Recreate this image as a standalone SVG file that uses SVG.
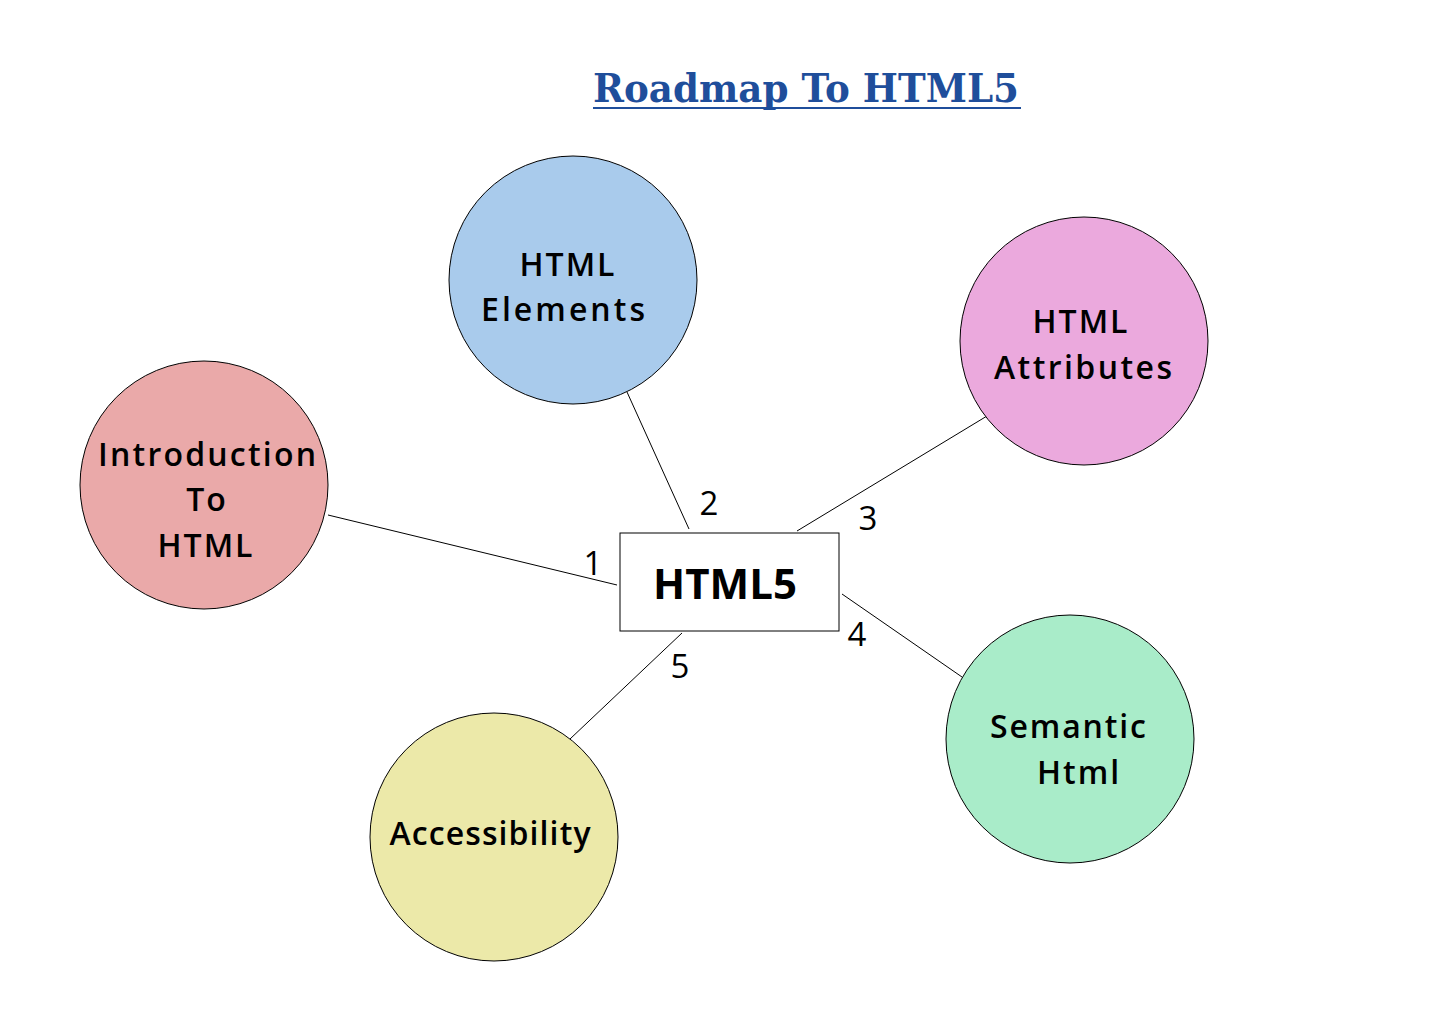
<svg xmlns="http://www.w3.org/2000/svg" width="1440" height="1024" viewBox="0 0 1440 1024">
<style>
.c{stroke:#000;stroke-width:1}
.t{font-family:"Open Sans","DejaVu Sans",sans-serif;font-size:32px;font-weight:600;fill:#000;text-anchor:middle;letter-spacing:2px}
.n{font-family:"Open Sans","DejaVu Sans",sans-serif;font-size:33px;font-weight:500;fill:#000;text-anchor:middle}
.e{stroke:#000;stroke-width:1;fill:none}
</style>
<rect width="1440" height="1024" fill="#fff"/>
<g id="title">
<text x="806" y="102" font-family="'DejaVu Serif',serif" font-size="40" font-weight="bold" fill="#1F4E9B" text-anchor="middle" textLength="426" lengthAdjust="spacingAndGlyphs">Roadmap To HTML5</text>
<line x1="593" y1="108" x2="1021" y2="108" stroke="#1F4E9B" stroke-width="2"/>
</g>
<g id="connectors">
<line class="e" x1="328" y1="515" x2="617" y2="585"/>
<line class="e" x1="627" y1="392" x2="689" y2="529"/>
<line class="e" x1="797" y1="531" x2="987" y2="416"/>
<line class="e" x1="842" y1="594" x2="962" y2="677"/>
<line class="e" x1="682" y1="633" x2="570" y2="739"/>
<text class="n" x="593" y="575">1</text>
<text class="n" x="709" y="515">2</text>
<text class="n" x="868" y="530">3</text>
<text class="n" x="857" y="646">4</text>
<text class="n" x="680" y="678">5</text>
</g>
<g id="center">
<rect x="620" y="533" width="219" height="98" fill="#fff" stroke="#000" stroke-width="1"/>
<text x="725" y="599" font-family="'Open Sans','DejaVu Sans',sans-serif" font-size="42" font-weight="bold" text-anchor="middle">HTML5</text>
</g>
<g id="intro">
<circle class="c" cx="204" cy="485" r="124" fill="#EAA9A9"/>
<text class="t" x="208" y="466" textLength="220">Introduction</text>
<text class="t" x="207" y="511">To</text>
<text class="t" x="206" y="557">HTML</text>
</g>
<g id="elements">
<circle class="c" cx="573" cy="280" r="124" fill="#A9CBEC"/>
<text class="t" x="568" y="276">HTML</text>
<text class="t" x="564" y="321" textLength="166">Elements</text>
</g>
<g id="attributes">
<circle class="c" cx="1084" cy="341" r="124" fill="#EBA9DD"/>
<text class="t" x="1081" y="333">HTML</text>
<text class="t" x="1084" y="379" textLength="180">Attributes</text>
</g>
<g id="semantic">
<circle class="c" cx="1070" cy="739" r="124" fill="#A9ECC9"/>
<text class="t" x="1069" y="738" textLength="158">Semantic</text>
<text class="t" x="1079" y="784">Html</text>
</g>
<g id="accessibility">
<circle class="c" cx="494" cy="837" r="124" fill="#ECE9A9"/>
<text class="t" x="491" y="845" textLength="203">Accessibility</text>
</g>
</svg>
